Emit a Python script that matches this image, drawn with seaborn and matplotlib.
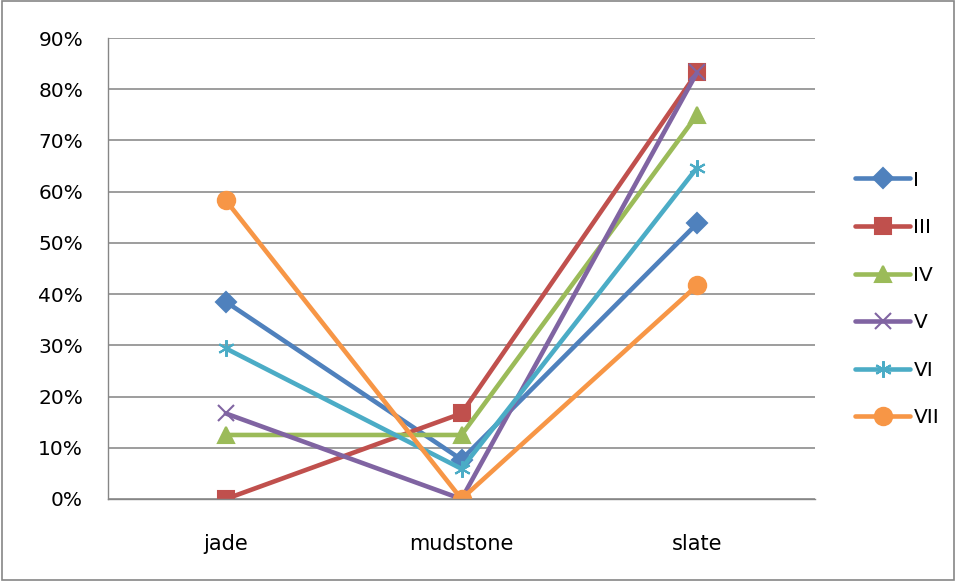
import matplotlib
matplotlib.use("Agg")
import matplotlib.pyplot as plt
import seaborn as sns
import pandas as pd
from matplotlib.ticker import PercentFormatter, FixedLocator

categories = ["jade", "mudstone", "slate"]
series_names = ["I", "III", "IV", "V", "VI", "VII"]
vals_I = [38.5, 7.7, 53.8]
vals_III = [0.0, 16.7, 83.3]
vals_IV = [12.5, 12.5, 75.0]
vals_V = [16.7, 0.0, 83.3]
vals_VI = [29.4, 5.9, 64.7]
vals_VII = [58.3, 0.0, 41.7]
all_vals = [vals_I, vals_III, vals_IV, vals_V, vals_VI, vals_VII]

colors = ["#4F81BD", "#C0504D", "#9BBB59", "#8064A2", "#4BACC6", "#F79646"]
markers = ["D", "s", "^", "x", (6, 2, 0), "o"]
msizes = [10.5, 12, 11.5, 11, 12, 12.5]

rows = []
for name, vals in zip(series_names, all_vals):
    for i, (c, v) in enumerate(zip(categories, vals)):
        rows.append({"series": name, "cat": c, "x": i, "value": v})
df = pd.DataFrame(rows)

sns.set_style("white")
plt.rcParams["font.family"] = ["DejaVu Sans"]
plt.rcParams["text.color"] = "black"
plt.rcParams["xtick.color"] = "black"
plt.rcParams["ytick.color"] = "black"

fig = plt.figure(figsize=(9.56, 5.81), dpi=100)
ax = fig.add_axes([108/956, 1-499/581, (815-108)/956, (499-38)/581])

for name, col, mk, ms in zip(series_names, colors, markers, msizes):
    sub = df[df["series"] == name]
    sns.lineplot(data=sub, x="x", y="value", ax=ax, color=col, linewidth=3.3,
                 marker=mk, markersize=ms, markeredgecolor=col, markerfacecolor=col,
                 markeredgewidth=1.5, label=name, legend=False)

ax.set_xlim(-0.5, 2.5)
ax.set_ylim(0, 90)
ax.yaxis.set_major_locator(FixedLocator(range(0, 91, 10)))
ax.yaxis.set_major_formatter(PercentFormatter(decimals=0))
ax.set_xticks(range(len(categories)))
ax.set_xticklabels(categories)
ax.set_xticks([-0.5, 0.5, 1.5, 2.5], minor=True)
ax.tick_params(axis="x", which="major", length=0, labelsize=15, pad=25, labelcolor="black")
ax.tick_params(axis="x", which="minor", length=5, color="#868686", direction="out")
ax.tick_params(axis="y", which="major", length=5, color="#868686", direction="out",
               labelsize=14.5, pad=13, labelcolor="black")
ax.set_xlabel("")
ax.set_ylabel("")
ax.grid(axis="y", color="#8c8c8c", linewidth=1.2)
for s in ["top", "right"]:
    ax.spines[s].set_visible(False)
for s in ["left", "bottom"]:
    ax.spines[s].set_color("#868686")
    ax.spines[s].set_linewidth(1.0)

handles, labels = ax.get_legend_handles_labels()
leg = fig.legend(handles, labels, loc="center left", bbox_to_anchor=(855/956, 1-299/581),
                 frameon=False, fontsize=14.5, handlelength=2.75, labelspacing=1.42,
                 handletextpad=0.15, borderaxespad=0, borderpad=0)
for t in leg.get_texts():
    t.set_color("black")

border = plt.Rectangle((0.002, 0.002), 0.996, 0.996, transform=fig.transFigure,
                       fill=False, edgecolor="#868686", linewidth=1.2)
fig.patches.append(border)

fig.savefig("out.png", dpi=100)
